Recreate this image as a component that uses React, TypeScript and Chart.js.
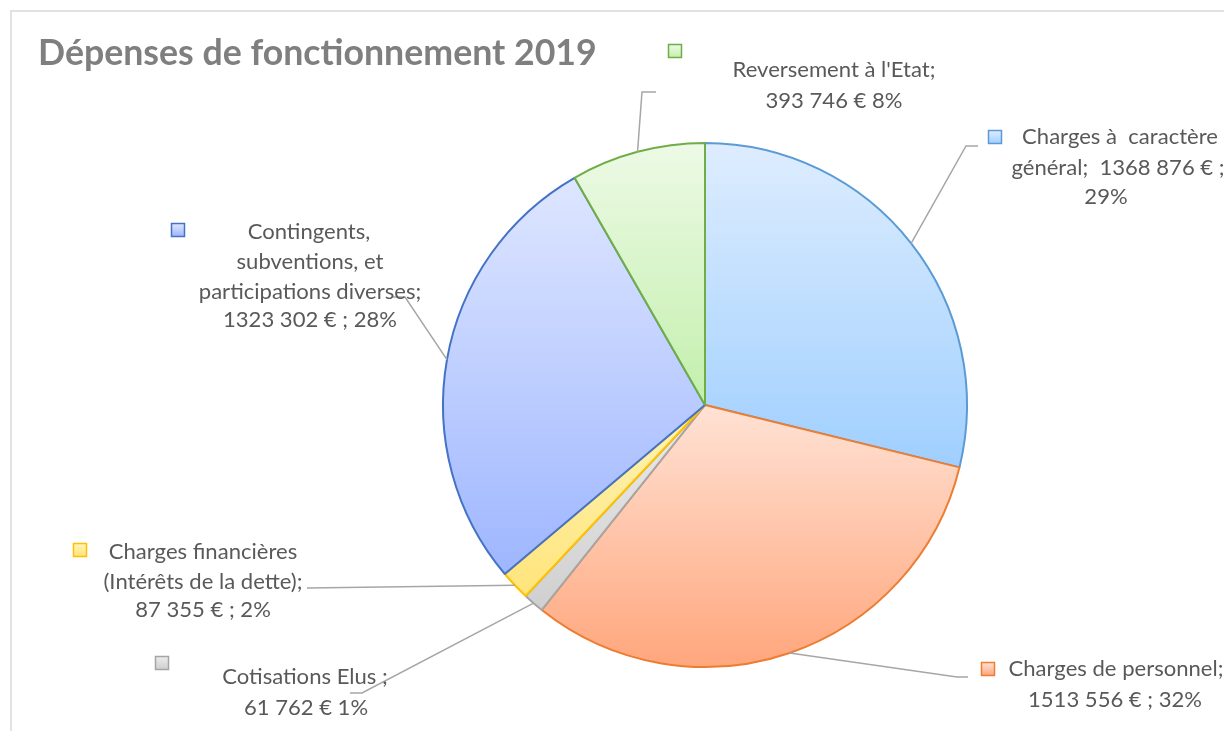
import React, { useEffect, useRef } from "react";
import { Chart, registerables } from "chart.js";

Chart.register(...registerables);

// ---- data ----
const chartTitle = "Dépenses de fonctionnement 2019";
const categories = [
  "Charges à caractère général",
  "Charges de personnel",
  "Cotisations Elus",
  "Charges financières (Intérêts de la dette)",
  "Contingents, subventions, et participations diverses",
  "Reversement à l'Etat",
];
const amounts = [1368876, 1513556, 61762, 87355, 1323302, 393746];
// label text, {v} = amount, {p} = share in percent
const labelLines = [
  ["Charges à  caractère", "général;  {v} € ;", "{p}%"],
  ["Charges de personnel;", "{v} € ; {p}%"],
  ["Cotisations Elus ;", "{v} € {p}%"],
  ["Charges financières", "(Intérêts de la dette);", "{v} € ; {p}%"],
  ["Contingents,", "subventions, et", "participations diverses;", "{v} € ; {p}%"],
  ["Reversement à l'Etat;", "{v} € {p}%"],
];

// ---- styles ----
const borderColors = ["#5b9bd5", "#ed7d31", "#a5a5a5", "#ffc000", "#4472c4", "#70ad47"];
const fillTop = ["#deedfe", "#ffe2d5", "#ececec", "#fff4b8", "#dee6ff", "#edfae6"];
const fillBottom = ["#9fcfff", "#ffa67c", "#cfcfcf", "#ffe47a", "#9eb6ff", "#c3efac"];
const FONT = "Lato, 'Open Sans', sans-serif";
const TEXT_COLOR = "#595959";
const TITLE_COLOR = "#7f7f7f";
const LEADER_COLOR = "#a6a6a6";

// label placement: legend key square, centre of each text line, leader elbows
const labelLayout = [
  { key: [995, 137], lines: [[1120, 137], [1118, 168], [1106, 197]], leader: [[978, 146], [966, 146]] },
  { key: [988, 669], lines: [[1116, 669], [1115, 700]], leader: [[968, 677], [957, 677]] },
  { key: [162, 663], lines: [[305, 677], [306, 708]], leader: [[350, 693], [362, 693]] },
  { key: [80, 550], lines: [[203, 552], [203, 582], [203, 610]], leader: [[307, 588]] },
  { key: [178, 230], lines: [[309, 232], [310, 262], [310, 292], [310, 320]], leader: [[393, 297], [405, 297]] },
  { key: [675, 51], lines: [[834, 70], [834, 101]], leader: [[656, 92], [642, 92]] },
];

const total = amounts.reduce((a, b) => a + b, 0);

const fmtAmount = (n: number) => {
  const th = Math.floor(n / 1000);
  const rest = String(n % 1000).padStart(3, "0");
  return th > 0 ? `${th} ${rest}` : String(n % 1000);
};

const sliceAngles = (i: number) => {
  let before = 0;
  for (let k = 0; k < i; k++) before += amounts[k];
  const a0 = -Math.PI / 2 + (before / total) * Math.PI * 2;
  const a1 = a0 + (amounts[i] / total) * Math.PI * 2;
  return [a0, a1];
};

function sliceGradient(
  ctx: CanvasRenderingContext2D,
  cx: number,
  cy: number,
  r: number,
  a0: number,
  a1: number,
  top: string,
  bottom: string
) {
  const ys = [cy, cy + r * Math.sin(a0), cy + r * Math.sin(a1)];
  for (const k of [-Math.PI / 2, Math.PI / 2, (3 * Math.PI) / 2]) {
    if (k >= a0 && k <= a1) ys.push(cy + r * Math.sin(k));
  }
  const minY = Math.min(...ys);
  const maxY = Math.max(...ys);
  const g = ctx.createLinearGradient(0, minY, 0, Math.max(maxY, minY + 1));
  g.addColorStop(0, top);
  g.addColorStop(1, bottom);
  return g;
}

const fitFont = (ctx: CanvasRenderingContext2D, weight: string, text: string, width: number) => {
  ctx.font = `${weight} 100px ${FONT}`;
  return (100 * width) / ctx.measureText(text).width;
};

const overlayPlugin = {
  id: "pieOverlay",
  afterDraw(chart: any) {
    const ctx: CanvasRenderingContext2D = chart.ctx;
    const meta = chart.getDatasetMeta(0);
    ctx.save();

    // outer frame
    ctx.strokeStyle = "#d9d9d9";
    ctx.lineWidth = 1.5;
    ctx.beginPath();
    ctx.moveTo(11, chart.height);
    ctx.lineTo(11, 11);
    ctx.lineTo(chart.width, 11);
    ctx.stroke();

    // title
    const titleSize = fitFont(ctx, "bold", chartTitle, 559);
    ctx.font = `bold ${titleSize}px ${FONT}`;
    ctx.fillStyle = TITLE_COLOR;
    ctx.textAlign = "left";
    ctx.textBaseline = "middle";
    ctx.fillText(chartTitle, 38, 53);

    const labelSize = fitFont(ctx, "normal", "Charges de personnel;", 215);

    amounts.forEach((v, i) => {
      const arc = meta.data[i];
      const lay = labelLayout[i];
      const mid = (arc.startAngle + arc.endAngle) / 2;
      const ex = arc.x + Math.cos(mid) * arc.outerRadius;
      const ey = arc.y + Math.sin(mid) * arc.outerRadius;

      // leader line
      ctx.strokeStyle = LEADER_COLOR;
      ctx.lineWidth = 1.5;
      ctx.beginPath();
      lay.leader.forEach(([x, y], k) => (k === 0 ? ctx.moveTo(x, y) : ctx.lineTo(x, y)));
      ctx.lineTo(ex, ey);
      ctx.stroke();

      // legend key
      const s = 13;
      const [kx, ky] = lay.key;
      const g = ctx.createLinearGradient(0, ky - s / 2, 0, ky + s / 2);
      g.addColorStop(0, fillTop[i]);
      g.addColorStop(1, fillBottom[i]);
      ctx.fillStyle = g;
      ctx.fillRect(kx - s / 2, ky - s / 2, s, s);
      ctx.strokeStyle = borderColors[i];
      ctx.lineWidth = 1.5;
      ctx.strokeRect(kx - s / 2, ky - s / 2, s, s);

      // text
      const pct = Math.round((v / total) * 100);
      ctx.font = `${labelSize}px ${FONT}`;
      ctx.fillStyle = TEXT_COLOR;
      ctx.textAlign = "center";
      ctx.textBaseline = "middle";
      labelLines[i].forEach((tpl, k) => {
        const text = tpl.replace("{v}", fmtAmount(v)).replace("{p}", String(pct));
        const [lx, ly] = lay.lines[k];
        ctx.fillText(text, lx, ly);
      });
    });

    ctx.restore();
  },
};

export default function App() {
  const canvasRef = useRef<HTMLCanvasElement | null>(null);

  useEffect(() => {
    document.body.style.margin = "0";
    const canvas = canvasRef.current;
    if (!canvas) return;
    const chart = new Chart(canvas, {
      type: "pie",
      data: {
        labels: categories,
        datasets: [
          {
            data: amounts,
            borderColor: borderColors,
            borderWidth: 2,
            backgroundColor: (c: any) => {
              const i = c.dataIndex ?? 0;
              const area = c.chart.chartArea;
              if (!area) return fillBottom[i];
              const cx = (area.left + area.right) / 2;
              const cy = (area.top + area.bottom) / 2;
              const r = Math.min(area.width, area.height) / 2;
              const [a0, a1] = sliceAngles(i);
              return sliceGradient(c.chart.ctx, cx, cy, r, a0, a1, fillTop[i], fillBottom[i]);
            },
          },
        ],
      },
      options: {
        animation: false,
        responsive: false,
        events: [],
        layout: { padding: { left: 442, top: 142, right: 256, bottom: 63 } },
        plugins: {
          legend: { display: false },
          title: { display: false },
          tooltip: { enabled: false },
        },
      },
      plugins: [overlayPlugin],
    });
    return () => chart.destroy();
  }, []);

  return (
    <div style={{ width: 1224, height: 731, background: "#ffffff" }}>
      <canvas ref={canvasRef} width={1224} height={731} style={{ display: "block" }} />
    </div>
  );
}
